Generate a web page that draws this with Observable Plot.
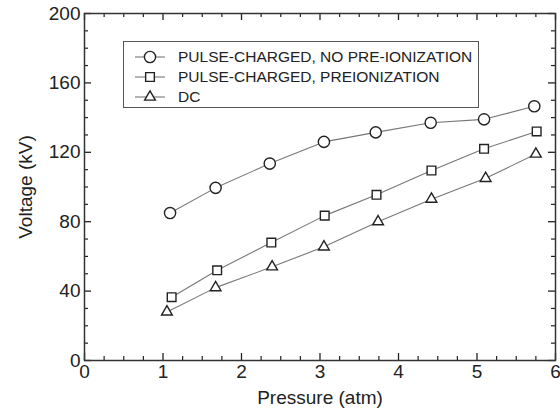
<!DOCTYPE html>
<html>
<head>
<meta charset="utf-8">
<script src="https://cdn.jsdelivr.net/npm/d3@7"></script>
<script src="https://cdn.jsdelivr.net/npm/@observablehq/plot@0.6"></script>
<style>
  html, body { margin: 0; padding: 0; background: #fff; }
  #wrap { position: relative; width: 560px; height: 415px; font-family: "Liberation Sans", Arial, sans-serif; }
  #legend { position: absolute; left: 123px; top: 41px; width: 356px; height: 67px; border: 1px solid #555; background: #fff; box-sizing: border-box; }
  .row { position: absolute; left: 0; height: 20px; display: flex; align-items: center; font-size: 15.5px; color: #222; }
  .row svg { display: block; margin-left: 11px; margin-right: 13px; }
</style>
</head>
<body>
<div id="wrap"></div>
<script>
// ---- data ----
const seriesNames = ["PULSE-CHARGED, NO PRE-IONIZATION", "PULSE-CHARGED, PREIONIZATION", "DC"];
const seriesSymbols = ["circle", "square", "triangle"];

const pressureNoPre = [1.09, 1.67, 2.36, 3.05, 3.71, 4.41, 5.09, 5.73];
const voltageNoPre  = [85, 99.5, 113.5, 126, 131.5, 137, 139, 146.5];

const pressurePre = [1.11, 1.69, 2.38, 3.06, 3.72, 4.42, 5.09, 5.76];
const voltagePre  = [36.5, 52, 68, 83.5, 95.5, 109.5, 122, 132];

const pressureDC = [1.05, 1.67, 2.39, 3.05, 3.74, 4.42, 5.11, 5.75];
const voltageDC  = [28, 42, 54, 65.5, 80, 93, 105, 119];

const xMajor = [0, 1, 2, 3, 4, 5, 6];
const xMinor = [0.25,0.5,0.75,1.25,1.5,1.75,2.25,2.5,2.75,3.25,3.5,3.75,4.25,4.5,4.75,5.25,5.5,5.75];
const yMajor = [0, 40, 80, 120, 160, 200];
const yMinor = [10,20,30,50,60,70,90,100,110,130,140,150,170,180,190];

// ---- build table ----
const series = [
  {name: seriesNames[0], sym: seriesSymbols[0], x: pressureNoPre, y: voltageNoPre},
  {name: seriesNames[1], sym: seriesSymbols[1], x: pressurePre, y: voltagePre},
  {name: seriesNames[2], sym: seriesSymbols[2], x: pressureDC, y: voltageDC}
];
const rows = series.flatMap(s => s.x.map((x, i) => ({series: s.name, sym: s.sym, x, y: s.y[i]})));
const symR = {circle: 5.6, square: 4.9, triangle: 4.0};

const W = 560, H = 415, mL = 84, mR = 5, mT = 13, mB = 55;
const fh = H - mT - mB, fw = W - mL - mR;
const ink = "#222";

const plot = Plot.plot({
  width: W, height: H,
  marginLeft: mL, marginRight: mR, marginTop: mT, marginBottom: mB,
  style: {fontFamily: '"Liberation Sans", Arial, sans-serif', background: "#fff", color: ink, fontSize: "19px"},
  x: {domain: [0, 6]},
  y: {domain: [0, 200]},
  marks: [
    // inward ticks, all four sides
    Plot.tickX(xMajor, {x: d => d, insetTop: fh - 7, stroke: ink, strokeWidth: 1.3}),
    Plot.tickX(xMajor, {x: d => d, insetBottom: fh - 7, stroke: ink, strokeWidth: 1.3}),
    Plot.tickX(xMinor, {x: d => d, insetTop: fh - 4, stroke: ink, strokeWidth: 1.2}),
    Plot.tickX(xMinor, {x: d => d, insetBottom: fh - 4, stroke: ink, strokeWidth: 1.2}),
    Plot.tickY(yMajor, {y: d => d, insetRight: fw - 7, stroke: ink, strokeWidth: 1.3}),
    Plot.tickY(yMajor, {y: d => d, insetLeft: fw - 7, stroke: ink, strokeWidth: 1.3}),
    Plot.tickY(yMinor, {y: d => d, insetRight: fw - 4, stroke: ink, strokeWidth: 1.2}),
    Plot.tickY(yMinor, {y: d => d, insetLeft: fw - 4, stroke: ink, strokeWidth: 1.2}),
    Plot.axisX({ticks: xMajor, tickSize: 0, tickPadding: 4, fontSize: 19, tickFormat: d3.format("d"),
      label: "Pressure (atm)", labelAnchor: "center", labelOffset: 43, labelArrow: "none"}),
    Plot.axisY({ticks: yMajor, tickSize: 0, tickPadding: 4, fontSize: 19, tickFormat: d3.format("d"),
      label: "Voltage (kV)", labelAnchor: "center", labelOffset: 66, labelArrow: "none"}),
    Plot.frame({stroke: "#333", strokeWidth: 1.5}),
    Plot.line(rows, {x: "x", y: "y", z: "series", stroke: "#777", strokeWidth: 1.1}),
    ...seriesSymbols.map(s => Plot.dot(rows.filter(d => d.sym === s),
      {x: "x", y: "y", symbol: () => s, r: symR[s], stroke: ink, strokeWidth: 1.4, fill: "#fff"}))
  ]
});
plot.querySelectorAll("text").forEach(t => { t.setAttribute("font-size", "19"); t.style.fontSize = "19px"; });
const wrap = document.getElementById("wrap");
wrap.appendChild(plot);

// ---- legend overlay ----
const legend = document.createElement("div");
legend.id = "legend";
const rowTops = [5, 25, 45];
series.forEach((s, i) => {
  const row = document.createElement("div");
  row.className = "row";
  row.style.top = rowTops[i] + "px";
  const r = symR[s.sym];
  const symType = {circle: d3.symbolCircle, square: d3.symbolSquare, triangle: d3.symbolTriangle}[s.sym];
  const path = d3.symbol(symType, r * r * Math.PI)();
  row.innerHTML = `<svg width="30" height="20" viewBox="-15 -10 30 20">
      <line x1="-15" x2="15" y1="0" y2="0" stroke="#777" stroke-width="1.1"/>
      <path d="${path}" fill="#fff" stroke="${ink}" stroke-width="1.4"/></svg><span>${s.name}</span>`;
  legend.appendChild(row);
});
wrap.appendChild(legend);
</script>
</body>
</html>
